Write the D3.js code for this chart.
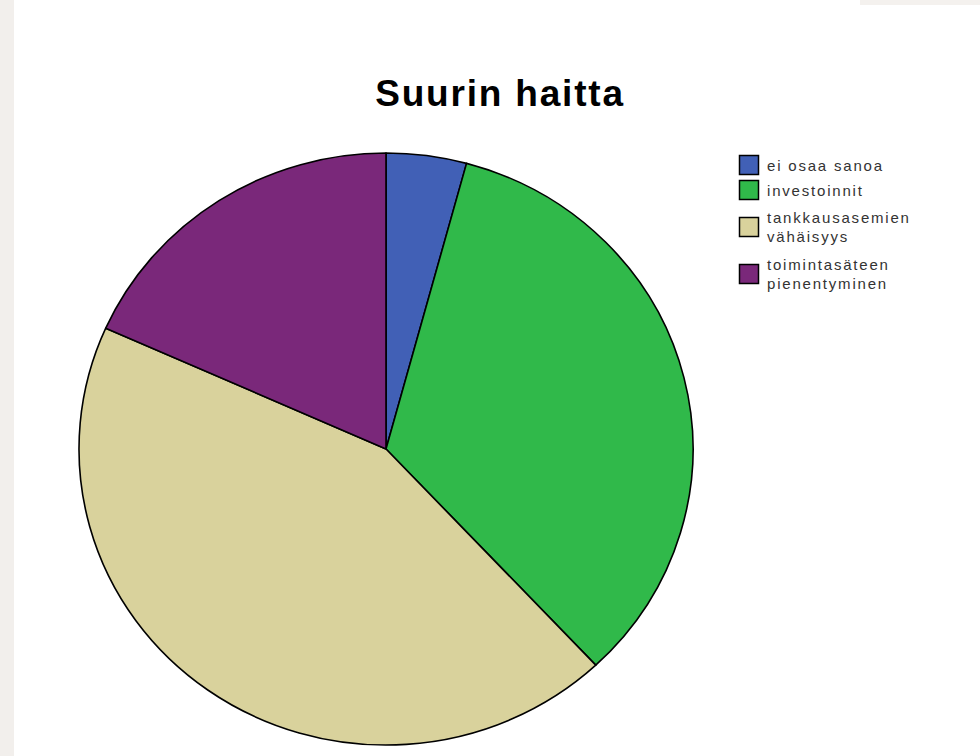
<!DOCTYPE html>
<html>
<head>
<meta charset="utf-8">
<script src="https://cdn.jsdelivr.net/npm/d3@7"></script>
<style>
  html, body { margin: 0; padding: 0; background: #ffffff; }
  svg { display: block; }
</style>
</head>
<body>
<svg id="chart" width="980" height="756"></svg>
<script>
// Data
const title = "Suurin haitta";
const categories = ["ei osaa sanoa", "investoinnit", "tankkausasemien vähäisyys", "toimintasäteen pienentyminen"];
const legendLines = [["ei osaa sanoa"], ["investoinnit"], ["tankkausasemien", "vähäisyys"], ["toimintasäteen", "pienentyminen"]];
const values = [3, 24, 31, 13];
const colors = ["#4160b6", "#30b94a", "#d9d29c", "#7a287a"];

const svg = d3.select("#chart");

// background edge strips
svg.append("rect").attr("x", 0).attr("y", 0).attr("width", 14).attr("height", 756).attr("fill", "#f2efec");
svg.append("rect").attr("x", 860).attr("y", 0).attr("width", 120).attr("height", 5).attr("fill", "#f4f1ee");

// title
svg.append("text")
  .attr("x", 500).attr("y", 106)
  .attr("text-anchor", "middle")
  .attr("font-family", "Liberation Sans, Arial, sans-serif")
  .attr("font-weight", "bold")
  .attr("font-size", 37)
  .attr("letter-spacing", 1.8)
  .attr("fill", "#000")
  .text(title);

// pie
const cx = 386, cy = 449, ry = 296, rx = 307;
const pie = d3.pie().sort(null).value(d => d)(values);
const arc = d3.arc().innerRadius(0).outerRadius(ry);
const color = d3.scaleOrdinal().domain(categories).range(colors);

const g = svg.append("g").attr("transform", `translate(${cx},${cy}) scale(${rx / ry},1)`);
g.selectAll("path").data(pie).join("path")
  .attr("d", arc)
  .attr("fill", (d, i) => color(categories[i]))
  .attr("stroke", "#000")
  .attr("stroke-width", 1.6)
  .attr("stroke-linejoin", "round")
  .attr("vector-effect", "non-scaling-stroke");

// legend
const legendY = [155, 180, 217, 264];
const lg = svg.append("g");
categories.forEach((c, i) => {
  const y0 = legendY[i];
  lg.append("rect")
    .attr("x", 739.5).attr("y", y0 + 0.5)
    .attr("width", 19).attr("height", 19)
    .attr("fill", color(c))
    .attr("stroke", "#000").attr("stroke-width", 1.5);
  const lines = legendLines[i];
  const t = lg.append("text")
    .attr("font-family", "Liberation Sans, Arial, sans-serif")
    .attr("font-size", 15)
    .attr("letter-spacing", 1.8)
    .attr("fill", "#333");
  lines.forEach((ln, j) => {
    const base = lines.length === 1 ? y0 + 16 : y0 + 6 + j * 19;
    t.append("tspan").attr("x", 767).attr("y", base).text(ln);
  });
});
</script>
</body>
</html>
